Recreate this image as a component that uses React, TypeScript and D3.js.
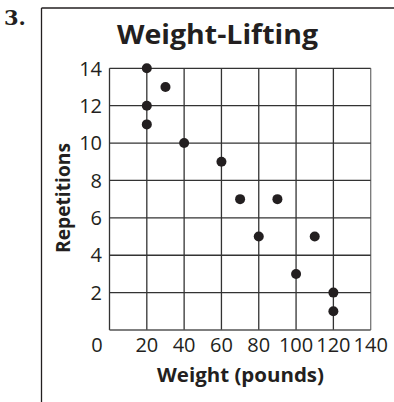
import React from "react";
import * as d3 from "d3";

const weights = [20, 20, 20, 30, 40, 60, 70, 80, 90, 100, 110, 120, 120];
const repetitions = [14, 12, 11, 13, 10, 9, 7, 5, 7, 3, 5, 2, 1];
const xTicks = [20, 40, 60, 80, 100, 120, 140];
const yTicks = [2, 4, 6, 8, 10, 12, 14];
const title = "Weight-Lifting";
const xTitle = "Weight (pounds)";
const yTitle = "Repetitions";
const problemNumber = "3.";

const W = 394;
const H = 402;
const plot = { left: 109.5, right: 370.7, top: 68.3, bottom: 330 };
const font = "'Open Sans', 'Noto Sans', sans-serif";
const ink = "#231f20";

export default function App() {
  const x = d3.scaleLinear().domain([0, 140]).range([plot.left, plot.right]);
  const y = d3.scaleLinear().domain([0, 14]).range([plot.bottom, plot.top]);
  const gridX = d3.range(0, 141, 20);
  const gridY = d3.range(0, 15, 2);
  return (
    <svg
      width={W}
      height={H}
      style={{ position: "absolute", left: 0, top: 0, background: "#fff" }}
    >
      {/* frame */}
      <line x1={41.5} y1={8} x2={W} y2={8} stroke={ink} strokeWidth={1.3} />
      <line x1={41.5} y1={8} x2={41.5} y2={H} stroke={ink} strokeWidth={1.3} />
      <text
        x={4}
        y={25}
        fontFamily="'DejaVu Serif', 'Liberation Serif', serif"
        fontWeight="bold"
        fontSize={21}
        fill={ink}
      >
        {problemNumber}
      </text>
      <text
        x={217.5}
        y={44}
        textAnchor="middle"
        fontFamily={font}
        fontWeight="bold"
        fontSize={26}
        textLength={201}
        lengthAdjust="spacingAndGlyphs"
        fill={ink}
      >
        {title}
      </text>
      {/* grid */}
      {gridX.map((v) => (
        <line
          key={"gx" + v}
          x1={x(v)}
          x2={x(v)}
          y1={plot.top}
          y2={plot.bottom}
          stroke={v === 140 ? "#777" : "#333"}
          strokeWidth={1.3}
        />
      ))}
      {gridY.map((v) => (
        <line
          key={"gy" + v}
          x1={plot.left}
          x2={plot.right}
          y1={y(v)}
          y2={y(v)}
          stroke={v === 0 ? "#555" : "#333"}
          strokeWidth={1.3}
        />
      ))}
      {/* y ticks */}
      {yTicks.map((v) => (
        <text
          key={"yt" + v}
          x={102}
          y={y(v)}
          dy="0.36em"
          textAnchor="end"
          fontFamily={font}
          fontSize={20}
          fill={ink}
        >
          {v}
        </text>
      ))}
      <text
        x={97}
        y={352}
        textAnchor="middle"
        fontFamily={font}
        fontSize={20}
        fill={ink}
      >
        0
      </text>
      {xTicks.map((v) => (
        <text
          key={"xt" + v}
          x={x(v)}
          y={352}
          textAnchor="middle"
          fontFamily={font}
          fontSize={20}
          fill={ink}
        >
          {v}
        </text>
      ))}
      <text
        x={240.5}
        y={382}
        textAnchor="middle"
        fontFamily={font}
        fontWeight="bold"
        fontSize={20}
        textLength={167}
        lengthAdjust="spacingAndGlyphs"
        fill={ink}
      >
        {xTitle}
      </text>
      <text
        transform={`translate(70, 198) rotate(-90)`}
        textAnchor="middle"
        fontFamily={font}
        fontWeight="bold"
        fontSize={20}
        textLength={110}
        lengthAdjust="spacingAndGlyphs"
        fill={ink}
      >
        {yTitle}
      </text>
      {weights.map((w, i) => (
        <circle key={"p" + i} cx={x(w)} cy={y(repetitions[i])} r={5} fill={ink} />
      ))}
    </svg>
  );
}
